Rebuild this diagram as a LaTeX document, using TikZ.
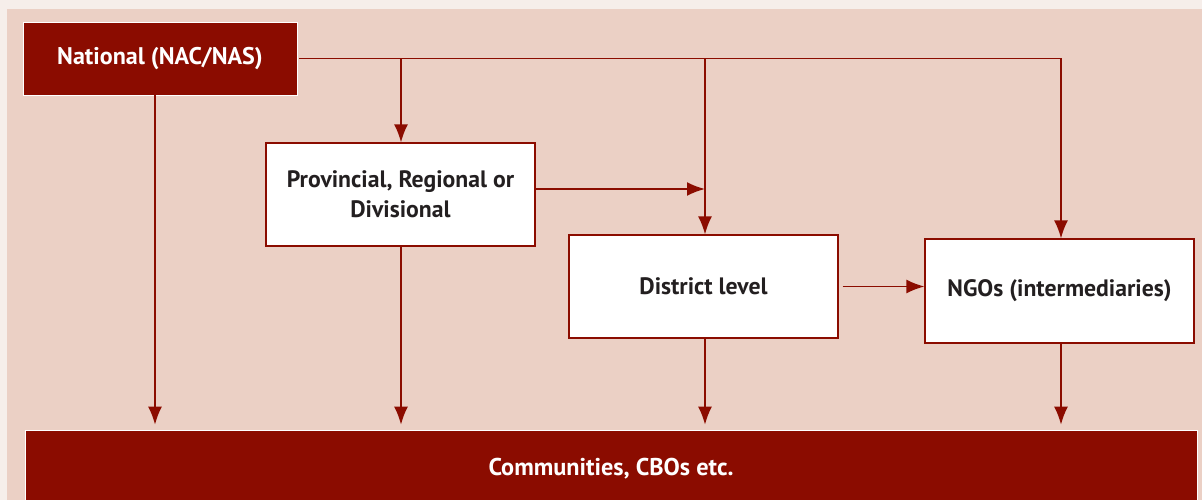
\documentclass[tikz,border=0pt]{standalone}
\usepackage{fontspec}
\setmainfont{PT Sans}
\usepackage{tikz}
\usetikzlibrary{arrows.meta}
\definecolor{darkred}{HTML}{8B0C00}
\definecolor{panel}{HTML}{EBD0C5}
\definecolor{outer}{HTML}{F6EEEA}
\definecolor{ink}{HTML}{231F20}
\tikzset{>={Latex[width=2.8mm,length=3.6mm]}}
\tikzset{
  redbox/.style={fill=darkred, draw=white, line width=0.3pt, text=white,
    font=\fontsize{13.7}{16}\selectfont\bfseries, inner sep=0pt, align=center},
  whitebox/.style={fill=white, draw=darkred, line width=0.6pt, text=ink,
    font=\fontsize{13.5}{17}\selectfont\bfseries, inner sep=0pt, align=center,
    minimum width=53.8mm, minimum height=20.6mm},
  link/.style={draw=darkred, line width=1.1pt}
}

\begin{document}
\begin{tikzpicture}[x=0.2mm, y=-0.2mm]

  %% background
  \fill[outer] (0,0) rectangle (1202,500);
  \fill[panel] (7,9) rectangle (1202,500);
  \useasboundingbox (0,0) rectangle (1202,500);

  %% boxes
  \node[redbox, minimum width=54.8mm, minimum height=14.6mm] (nat) at (160,58.5) {National (NAC/NAS)};
  \node[whitebox] (prov) at (400.5,194.5) {Provincial, Regional or\\Divisional};
  \node[whitebox] (dist) at (703.5,286.5) {District level};
  \node[whitebox, minimum height=20.8mm] (ngo) at (1059.5,291) {NGOs (intermediaries)};
  \begin{scope}
    \clip (0,0) rectangle (1202,500);
    \node[redbox, minimum width=234.4mm, minimum height=15.6mm,
      font=\fontsize{13.8}{16}\selectfont\bfseries] (comm) at (611,469) {Communities, CBOs etc.};
  \end{scope}

  %% top bus
  \draw[link,->] ([xshift=0.4mm]nat.east) -- ([xshift=0.3mm]ngo.north |- nat.east) -- ([xshift=0.3mm]ngo.north); % nat->ngo
  \draw[link,->] ([xshift=0.1mm]prov.north |- nat.east) -- ([xshift=0.1mm]prov.north); % nat->prov
  \draw[link,->] ([xshift=0.3mm]dist.north |- nat.east) -- ([xshift=0.3mm]dist.north); % nat->dist

  \draw[link,->] (prov.east |- 0,189) -- ([xshift=0.3mm]dist.north |- 0,189); % prov->dist
  \draw[link,->] ([xshift=0.8mm]dist.east) -- (ngo.west |- dist.east); % dist->ngo

  %% down to communities
  \draw[link,->,shorten >=1mm] ([xshift=-1mm]nat.south) -- ([xshift=-1mm]comm.north -| nat.south);
  \draw[link,->,shorten >=1mm] ([xshift=0.1mm]prov.south) -- ([xshift=0.1mm]comm.north -| prov.south);
  \draw[link,->,shorten >=1mm] ([xshift=0.3mm]dist.south) -- ([xshift=0.3mm]comm.north -| dist.south);
  \draw[link,->,shorten >=1mm] ([xshift=0.3mm]ngo.south) -- ([xshift=0.3mm]comm.north -| ngo.south);

\end{tikzpicture}
\end{document}
